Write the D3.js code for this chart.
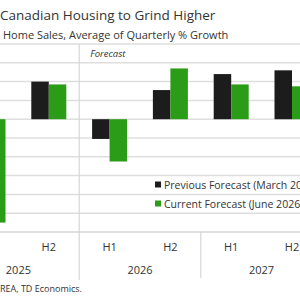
<!DOCTYPE html>
<html><head><meta charset="utf-8">
<script src="https://cdn.jsdelivr.net/npm/d3@7"></script>
<style>
html,body{margin:0;padding:0;background:#fff;overflow:hidden}
svg{display:block;font-family:"Open Sans",sans-serif}
</style></head>
<body><svg id="c" width="300" height="300"></svg>
<script>
const categories = ["2025 H1","2025 H2","2026 H1","2026 H2","2027 H1","2027 H2"];
const halfLabels = ["H1","H2","H1","H2","H1","H2"];
const years = ["2025","2026","2027"];
const previousForecast = [-5.3, 2.0, -1.05, 1.55, 2.4, 2.6];
const currentForecast = [-5.5, 1.85, -2.25, 2.7, 1.85, 1.75];
const seriesNames = ["Previous Forecast (March 2026)","Current Forecast (June 2026)"];
const yTicks = [-5,-4,-3,-2,-1,0,1,2,3,4];

const svg = d3.select("#c");
const colors = ["#1c1c1c","#2b9c17"];

const y = d3.scaleLinear().domain([-6,4]).range([232,44]);
const x = d3.scaleBand().domain(categories).range([-42.4,322.4]).paddingInner(0).paddingOuter(0);
const x1 = d3.scaleBand().domain([0,1]).range([x.bandwidth()/2-17.5, x.bandwidth()/2+17.5]);

// title
svg.append("text").attr("x",0).attr("y",20).attr("font-size",13.5).attr("fill","#333").text("Canadian Housing to Grind Higher");
svg.append("text").attr("x",3).attr("y",39).attr("font-size",11).attr("fill","#333").text("Home Sales, Average of Quarterly % Growth");

// gridlines
svg.append("g").selectAll("line").data(yTicks).join("line")
  .attr("x1",0).attr("x2",300).attr("y1",d=>y(d)).attr("y2",d=>y(d))
  .attr("stroke","#dedede").attr("stroke-width",1.5);

// forecast divider
const div1 = x("2026 H1");
svg.append("line").attr("x1",div1).attr("x2",div1).attr("y1",y(4)).attr("y2",280).attr("stroke","#d6d6d6").attr("stroke-width",1.2);
svg.append("text").attr("x",div1+11).attr("y",57).attr("font-size",9.5).attr("font-style","italic").attr("fill","#333").text("Forecast");

// bars
const data = categories.map((c,i)=>({c, v:[previousForecast[i], currentForecast[i]]}));
const g = svg.append("g").selectAll("g").data(data).join("g").attr("transform",d=>`translate(${x(d.c)},0)`);
g.selectAll("rect").data(d=>d.v.map((v,k)=>({v,k}))).join("rect")
  .attr("x",d=>x1(d.k)).attr("width",x1.bandwidth())
  .attr("y",d=>y(Math.max(0,d.v))).attr("height",d=>Math.abs(y(d.v)-y(0)))
  .attr("fill",d=>colors[d.k]);

// bottom axis line
svg.append("line").attr("x1",0).attr("x2",300).attr("y1",y(-6)).attr("y2",y(-6)).attr("stroke","#d6d6d6").attr("stroke-width",1.5);

// half labels
svg.append("g").selectAll("text").data(categories).join("text")
  .attr("x",d=>x(d)+x.bandwidth()/2).attr("y",251).attr("text-anchor","middle")
  .attr("font-size",11).attr("fill","#333").text((d,i)=>halfLabels[i]);

// year labels and separators
years.forEach((yr,i)=>{
  const a = x(categories[i*2]), b = x(categories[i*2+1]) + x.bandwidth();
  svg.append("text").attr("x",(a+b)/2).attr("y",274).attr("text-anchor","middle")
    .attr("font-size",11).attr("fill","#333").text(yr);
  if(i>0 && yr!=="2026"){
    svg.append("line").attr("x1",a).attr("x2",a).attr("y1",y(-6)).attr("y2",278).attr("stroke","#d6d6d6").attr("stroke-width",1.2);
  }
});

// legend
const lg = svg.append("g").attr("transform","translate(155,0)");
seriesNames.forEach((s,i)=>{
  const cy = 185 + i*19;
  lg.append("rect").attr("x",0).attr("y",cy-3.5).attr("width",6).attr("height",6).attr("fill",colors[i]);
  lg.append("text").attr("x",9).attr("y",cy+3.8).attr("font-size",10.5).attr("fill","#333").text(s);
});

// source
const src = svg.append("text").attr("y",292).attr("font-size",9).attr("fill","#333").text("Source: CREA, TD Economics.");
const tmp = svg.append("text").attr("font-size",9).text("Source: C");
const off = tmp.node().getComputedTextLength();
tmp.remove();
src.attr("x",-off);
</script></body></html>
